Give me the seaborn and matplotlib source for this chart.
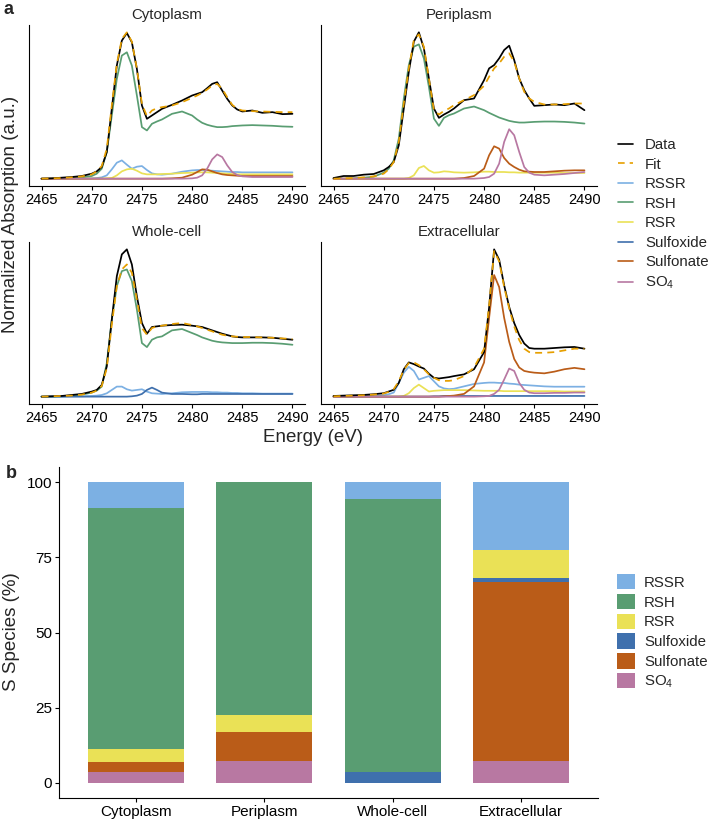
import numpy as np
import pandas as pd
import seaborn as sns
import matplotlib.pyplot as plt
from matplotlib.lines import Line2D
from matplotlib.patches import Patch

sns.set_theme(style="ticks")
plt.rcParams['font.family'] = ['Liberation Sans', 'DejaVu Sans']
plt.rcParams['mathtext.fontset'] = 'custom'
plt.rcParams['mathtext.rm'] = 'Liberation Sans'
plt.rcParams['mathtext.default'] = 'rm'
plt.rcParams['axes.edgecolor'] = 'black'
plt.rcParams['xtick.color'] = 'black'
plt.rcParams['ytick.color'] = 'black'

# energy grid (eV)
energy = [2465, 2466, 2467, 2468, 2469, 2470, 2470.5, 2471, 2471.5,
          2472, 2472.5, 2473, 2473.5, 2474, 2474.5, 2475, 2475.5,
          2476, 2476.5, 2477, 2478, 2479, 2480,
          2480.5, 2481, 2481.5, 2482, 2482.5, 2483, 2483.5, 2484, 2484.5,
          2485, 2486, 2487, 2488, 2489, 2490]

# --- Cytoplasm spectra (a.u.)
cyto_data = [0, 1, 3, 5, 8, 15, 22, 35, 80,
             210, 340, 415, 438, 410, 330, 220, 180,
             190, 200, 210, 222, 235, 250,
             255, 260, 272, 285, 290, 265, 240, 220, 208,
             202, 205, 198, 200, 194, 195]
cyto_fit = [0, 1, 2, 4, 7, 13, 22, 38, 90,
            220, 345, 420, 440, 412, 330, 225, 188,
            205, 212, 215, 220, 230, 243,
            250, 258, 268, 280, 285, 270, 245, 222, 210,
            205, 203, 202, 201, 200, 200]
cyto_rssr = [0, 0, 0, 0, 0, 1, 2, 4, 10,
             28, 48, 55, 42, 30, 36, 38, 26,
             16, 13, 12, 15, 21, 25,
             26, 26, 25, 24, 23, 22, 21, 20, 20,
             19, 19, 19, 19, 19, 19]
cyto_rsh = [0, 0, 1, 2, 4, 8, 15, 30, 80,
            190, 300, 370, 380, 340, 250, 155, 145,
            165, 172, 178, 195, 202, 190,
            178, 168, 162, 158, 155, 155, 156, 158, 159,
            160, 161, 160, 159, 157, 156]
cyto_rsr = [0, 0, 0, 0, 0, 0, 0, 0, 1,
            2, 10, 22, 28, 30, 24, 16, 13,
            13, 13, 14, 15, 17, 18,
            19, 19, 19, 18, 17, 16, 15, 14, 13,
            13, 13, 13, 13, 13, 13]
cyto_sulfonate = [0, 0, 0, 0, 0, 0, 0, 0, 0,
                  0, 0, 0, 0, 0, 0, 0, 0,
                  0, 0, 0, 1, 3, 12,
                  20, 28, 27, 22, 17, 13, 11, 10, 9,
                  8, 8, 8, 8, 8, 8]
cyto_so4 = [0, 0, 0, 0, 0, 0, 0, 0, 0,
            0, 0, 0, 0, 0, 0, 0, 0,
            0, 0, 0, 0, 0, 1,
            3, 10, 30, 58, 73, 65, 40, 20, 11,
            7, 5, 5, 5, 5, 5]

# --- Periplasm spectra
peri_data = [2, 8, 8, 12, 14, 25, 35, 50, 100,
             210, 320, 410, 438, 390, 300, 210, 182,
             192, 200, 210, 235, 240, 295,
             330, 340, 360, 385, 398, 355, 300, 265, 240,
             218, 220, 222, 220, 225, 205]
peri_fit = [0, 1, 2, 4, 7, 15, 28, 50, 110,
            225, 330, 415, 432, 395, 300, 205, 192,
            203, 210, 220, 235, 250, 278,
            305, 330, 345, 365, 375, 350, 300, 260, 240,
            230, 222, 222, 223, 225, 225]
peri_rsh = [0, 0, 1, 3, 6, 18, 30, 55, 120,
            240, 340, 395, 402, 360, 275, 180, 158,
            182, 190, 195, 210, 216, 205,
            197, 190, 183, 178, 173, 170, 168, 168, 169,
            170, 171, 171, 170, 168, 165]
peri_rsr = [0, 0, 0, 0, 0, 0, 0, 0, 0,
            0, 2, 10, 32, 38, 25, 18, 19,
            22, 21, 19, 18, 19, 21,
            21, 20, 20, 20, 19, 19, 18, 18, 18,
            18, 18, 18, 17, 17, 17]
peri_sulfonate = [0, 0, 0, 0, 0, 0, 0, 0, 0,
                  0, 0, 0, 0, 0, 0, 0, 0,
                  0, 0, 0, 2, 8, 30,
                  70, 97, 90, 62, 45, 35, 27, 22, 21,
                  20, 20, 22, 24, 25, 25]
peri_so4 = [0, 0, 0, 0, 0, 0, 0, 0, 0,
            0, 0, 0, 0, 0, 0, 0, 0,
            0, 0, 0, 0, 0, 2,
            5, 15, 45, 110, 148, 130, 80, 35, 18,
            12, 10, 12, 14, 17, 20]

# --- Whole-cell spectra
whole_data = [0, 1, 2, 5, 8, 15, 20, 35, 90,
              230, 360, 425, 440, 395, 300, 220, 188,
              208, 210, 212, 214, 215, 212,
              210, 208, 203, 198, 193, 188, 184, 180, 178,
              177, 177, 177, 176, 173, 170]
whole_fit = [0, 1, 2, 3, 6, 12, 18, 32, 85,
             215, 330, 380, 395, 370, 290, 205, 185,
             205, 210, 212, 217, 220, 214,
             210, 205, 200, 195, 190, 185, 182, 180, 179,
             178, 178, 177, 176, 174, 172]
whole_rssr = [0, 0, 0, 1, 1, 2, 3, 5, 10,
              20, 30, 30, 22, 18, 20, 22, 15,
              10, 9, 8, 10, 13, 14,
              14, 14, 14, 13, 13, 12, 12, 11, 11,
              10, 10, 9, 9, 9, 9]
whole_rsh = [0, 0, 1, 3, 6, 12, 18, 30, 100,
             230, 330, 375, 380, 345, 260, 160, 148,
             170, 177, 180, 198, 202, 190,
             184, 177, 172, 167, 164, 162, 161, 160, 160,
             160, 161, 161, 160, 158, 155]
whole_sulfoxide = [0, 0, 0, 0, 0, 0, 0, 0, 0,
                   0, 0, 0, 0, 1, 3, 8, 20,
                   27, 20, 12, 8, 8, 7,
                   7, 8, 8, 8, 8, 8, 8, 8, 8,
                   8, 8, 8, 8, 8, 8]

# --- Extracellular spectra
ext_data = [2, 3, 4, 5, 7, 10, 15, 20, 40,
            80, 100, 95, 88, 82, 67, 55, 53,
            55, 57, 60, 65, 80, 130,
            260, 430, 400, 325, 262, 215, 180, 155, 142,
            140, 140, 142, 144, 145, 140]
ext_fit = [1, 2, 3, 4, 6, 9, 14, 22, 45,
           78, 98, 100, 92, 80, 65, 55, 48,
           46, 46, 48, 60, 85, 140,
           265, 425, 395, 320, 258, 205, 165, 140, 130,
           128, 128, 130, 135, 140, 140]
ext_rssr = [0, 0, 0, 1, 2, 4, 7, 12, 40,
            70, 87, 75, 50, 55, 60, 45, 30,
            24, 22, 23, 30, 37, 40,
            41, 41, 40, 40, 38, 37, 35, 34, 33,
            32, 30, 29, 29, 29, 29]
ext_rsr = [0, 0, 0, 0, 0, 0, 0, 0, 0,
           2, 10, 25, 35, 25, 15, 17, 18,
           19, 19, 19, 19, 18, 17,
           17, 17, 17, 16, 16, 16, 16, 16, 16,
           16, 16, 16, 15, 15, 15]
ext_sulfoxide = [0, 0, 0, 0, 0, 0, 0, 0, 0,
                 0, 0, 0, 0, 0, 0, 1, 1,
                 2, 2, 2, 2, 2, 2,
                 2, 2, 2, 2, 2, 2, 2, 2, 2,
                 2, 2, 2, 2, 2, 2]
ext_sulfonate = [0, 0, 0, 0, 0, 0, 0, 0, 0,
                 0, 0, 0, 0, 0, 0, 0, 0,
                 1, 2, 3, 8, 30, 100,
                 230, 355, 320, 230, 160, 110, 85, 75, 72,
                 70, 68, 73, 80, 84, 80]
ext_so4 = [0, 0, 0, 0, 0, 0, 0, 0, 0,
           0, 0, 0, 0, 0, 0, 0, 0,
           0, 0, 0, 0, 0, 1,
           2, 8, 20, 50, 82, 75, 40, 20, 12,
           10, 10, 11, 11, 12, 12]

# --- speciation (%) for panel b
compartments = ['Cytoplasm', 'Periplasm', 'Whole-cell', 'Extracellular']
pct_so4 = [3.8, 7.2, 0.0, 7.2]
pct_sulfonate = [3.0, 9.6, 0.0, 59.5]
pct_sulfoxide = [0.0, 0.0, 3.6, 1.5]
pct_rsr = [4.5, 5.7, 0.0, 9.2]
pct_rsh = [80.0, 77.5, 90.7, 0.0]
pct_rssr = [8.7, 0.0, 5.7, 22.6]

colors = {'Data': 'black', 'Fit': '#E69F00', 'RSSR': '#7CB0E3', 'RSH': '#599D72',
          'RSR': '#EAE156', 'Sulfoxide': '#3F70AD', 'Sulfonate': '#BA5C18',
          'SO4': '#B878A2'}

panels = {
    'Cytoplasm': {'RSSR': cyto_rssr, 'RSH': cyto_rsh, 'RSR': cyto_rsr,
                  'Sulfonate': cyto_sulfonate, 'SO4': cyto_so4,
                  'Data': cyto_data, 'Fit': cyto_fit},
    'Periplasm': {'RSH': peri_rsh, 'RSR': peri_rsr, 'Sulfonate': peri_sulfonate,
                  'SO4': peri_so4, 'Data': peri_data, 'Fit': peri_fit},
    'Whole-cell': {'RSSR': whole_rssr, 'RSH': whole_rsh, 'Sulfoxide': whole_sulfoxide,
                   'Data': whole_data, 'Fit': whole_fit},
    'Extracellular': {'RSSR': ext_rssr, 'RSR': ext_rsr, 'Sulfoxide': ext_sulfoxide,
                      'Sulfonate': ext_sulfonate, 'SO4': ext_so4,
                      'Data': ext_data, 'Fit': ext_fit},
}

W, H = 712, 824
fig = plt.figure(figsize=(W / 100, H / 100), dpi=100)

def px_axes(left, top, right, bottom):
    return fig.add_axes([left / W, 1 - bottom / H, (right - left) / W, (bottom - top) / H])

boxes = {'Cytoplasm': (29, 25, 305, 186), 'Periplasm': (321, 25, 597, 186),
         'Whole-cell': (29, 242, 305, 404), 'Extracellular': (321, 242, 597, 404)}

for name, series in panels.items():
    ax = px_axes(*boxes[name])
    for key, vals in series.items():
        ls = (0, (4, 3)) if key == 'Fit' else '-'
        sns.lineplot(x=energy, y=vals, ax=ax, color=colors[key], linewidth=1.25,
                     linestyle=ls, estimator=None, sort=False)
    ax.set_xlim(2463.75, 2491.25)
    ax.margins(y=0.05)
    ax.set_xticks(range(2465, 2491, 5))
    ax.set_yticks([])
    sns.despine(ax=ax)
    for s in ['left', 'bottom']:
        ax.spines[s].set_linewidth(0.8)
    ax.tick_params(axis='x', length=3, width=0.8, labelsize=10.5, pad=2)
    ax.text(0.5, 1.04, name, transform=ax.transAxes, ha='center', va='baseline', fontsize=10.8)

fig.text(313 / W, 1 - 438 / H, 'Energy (eV)', ha='center', va='center', fontsize=13.5)
fig.text(11 / W, 1 - 214 / H, 'Normalized Absorption (a.u.)', rotation=90,
         ha='center', va='center', fontsize=13.5)
fig.text(9 / W, 1 - 9 / H, 'a', ha='center', va='center', fontsize=13, fontweight='bold')
fig.text(11 / W, 1 - 473 / H, 'b', ha='center', va='center', fontsize=13, fontweight='bold')

line_keys = ['Data', 'Fit', 'RSSR', 'RSH', 'RSR', 'Sulfoxide', 'Sulfonate', 'SO4']
labels = {k: k for k in line_keys}
labels['SO4'] = 'SO$_4$'
handles = [Line2D([], [], color=colors[k], lw=1.2, ls=(0, (4, 3)) if k == 'Fit' else '-')
           for k in line_keys]
fig.legend(handles, [labels[k] for k in line_keys], loc='upper left',
           bbox_to_anchor=(618 / W, 1 - 138 / H), frameon=False, fontsize=10.8,
           handlelength=1.0, handletextpad=0.8, labelspacing=0.37, borderpad=0,
           borderaxespad=0)

# --- panel b: stacked bars
axb = px_axes(59, 467, 598, 798)
stack = [('SO4', pct_so4), ('Sulfonate', pct_sulfonate), ('Sulfoxide', pct_sulfoxide),
         ('RSR', pct_rsr), ('RSH', pct_rsh), ('RSSR', pct_rssr)]
cum = np.cumsum([v for _, v in stack], axis=0)
for i in range(len(stack) - 1, -1, -1):
    key = stack[i][0]
    sns.barplot(x=compartments, y=cum[i], ax=axb, color=colors[key], width=0.75,
                saturation=1, linewidth=0)
axb.set_xlim(-0.6, 3.6)
axb.set_ylim(-5, 105)
axb.set_yticks([0, 25, 50, 75, 100])
axb.set_ylabel('')
fig.text(12 / W, 1 - 632 / H, 'S Species (%)', rotation=90,
         ha='center', va='center', fontsize=13.5)
sns.despine(ax=axb)
for s in ['left', 'bottom']:
    axb.spines[s].set_linewidth(0.8)
axb.tick_params(length=3, width=0.8, labelsize=11, pad=2)

bar_keys = ['RSSR', 'RSH', 'RSR', 'Sulfoxide', 'Sulfonate', 'SO4']
patches = [Patch(facecolor=colors[k], edgecolor='none') for k in bar_keys]
fig.legend(patches, [labels[k] for k in bar_keys], loc='upper left',
           bbox_to_anchor=(617 / W, 1 - 574 / H), frameon=False, fontsize=10.8,
           handlelength=1.2, handleheight=1.2, handletextpad=0.6, labelspacing=0.27,
           borderpad=0, borderaxespad=0)

fig.savefig('out.png', dpi=100)
